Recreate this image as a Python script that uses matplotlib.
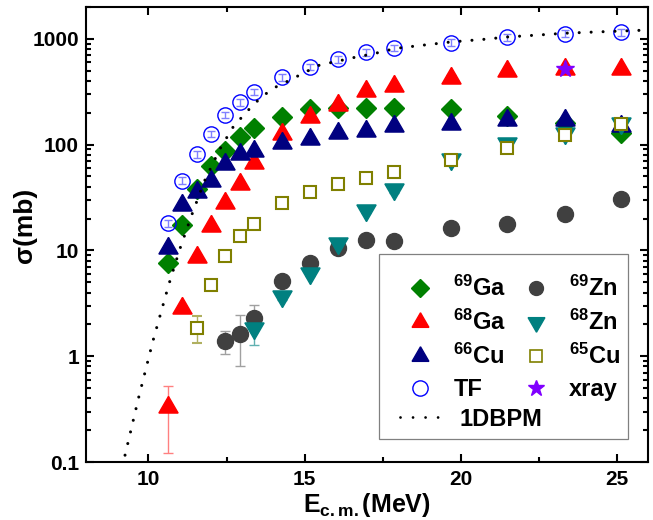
import matplotlib
matplotlib.use('Agg')
import matplotlib.pyplot as plt
from matplotlib.lines import Line2D
from matplotlib.patches import Rectangle
from matplotlib.ticker import MultipleLocator, NullFormatter, LogLocator

plt.rcParams['font.family'] = ['Liberation Sans', 'DejaVu Sans']
plt.rcParams['font.weight'] = 'bold'
plt.rcParams['mathtext.fontset'] = 'custom'
plt.rcParams['mathtext.rm'] = 'Liberation Sans:bold'
plt.rcParams['mathtext.bf'] = 'Liberation Sans:bold'
plt.rcParams['mathtext.it'] = 'Liberation Sans:bold'
plt.rcParams['axes.linewidth'] = 1.5

# ---------------- data ----------------
E = [10.63, 11.08, 11.54, 11.99, 12.44, 12.92, 13.37, 14.29, 15.16, 16.08,
     16.96, 17.88, 19.70, 21.50, 23.33, 25.15]

ga69 = [7.6, 17.5, 37.7, 62.6, 86.8, 119, 143, 181, 219, 224, 224, 224, 215, 186, 161, 130]
ga69_err = [0.4, 0.9, 1.9, 3.1, 4.3, 6, 7, 9, 11, 11, 11, 11, 11, 9, 8, 7]

ga68 = [0.334, 2.85, 8.68, 16.9, 28.2, 42, 67.4, 125, 184, 235, 321, 358, 430, 497, 515, 515]
ga68_lo = [0.213, 0.25, 0.7, 1.3, 2.2, 3.3, 5.3, 10, 15, 19, 25, 28, 34, 39, 40, 40]
ga68_hi = [0.194, 0.15, 0.4, 0.8, 1.4, 2.1, 3.4, 6, 9, 12, 16, 18, 21, 25, 26, 26]

cu66 = [10.6, 26.6, 35.5, 45, 64.9, 80.7, 86.8, 104, 112, 130, 136, 150, 155, 170, 170, 150]
cu66_err = [0.8, 2.0, 2.7, 3.4, 4.9, 6, 6.5, 8, 8.5, 10, 10, 11, 12, 13, 13, 11]

tf = [18, 45.8, 80.7, 126, 190, 251, 314, 433, 542, 641, 747, 820, 923, 1035, 1122, 1156]
tf_err = [1.3, 3.2, 5.6, 8.8, 13, 18, 22, 30, 38, 45, 52, 57, 65, 72, 79, 81]

E_cu65 = E[2:]
cu65 = [1.85, 4.74, 8.8, 13.8, 17.9, 28.2, 35.5, 42.9, 48.6, 55, 70.8, 93.5, 122, 155]
cu65_lo = [0.52, 0.4, 0.6, 0.9, 1.2, 1.9, 2.4, 2.9, 3.3, 3.7, 4.8, 6.3, 8.2, 10]
cu65_hi = [0.55, 0.4, 0.6, 0.9, 1.2, 1.9, 2.4, 2.9, 3.3, 3.7, 4.8, 6.3, 8.2, 10]

E_zn69 = E[4:]
zn69 = [1.4, 1.62, 2.3, 5.1, 7.6, 10.6, 12.5, 12.4, 16.3, 17.8, 22.2, 30.9]
zn69_lo = [0.35, 0.82, 0.5, 0.3, 0.4, 0.5, 0.6, 0.6, 0.7, 0.8, 1.0, 1.3]
zn69_hi = [0.35, 0.85, 0.77, 0.3, 0.4, 0.5, 0.6, 0.6, 0.7, 0.8, 1.0, 1.3]

E_zn68 = E[6:]
zn68 = [1.85, 3.67, 6.12, 11.8, 24.3, 37.7, 72.4, 104, 130, 161]
zn68_lo = [0.57, 0.25, 0.4, 0.8, 1.6, 2.5, 4.8, 7, 9, 11]
zn68_hi = [0.5, 0.25, 0.4, 0.8, 1.6, 2.5, 4.8, 7, 9, 11]

E_xray = [23.33]
xray = [523]

bpm_E = [9.25, 9.68, 10.14, 10.65, 11.0, 11.37, 11.79, 12.28, 12.70, 13.02, 13.34,
         13.66, 14.04, 14.41, 14.75, 15.1, 15.48, 16.19, 16.57, 16.96, 17.46, 17.88,
         18.58, 19.7, 20.77, 21.5, 22.53, 23.33, 24.35, 25.84]
bpm = [0.116, 0.40, 1.38, 4.74, 10.2, 21, 45, 90, 145, 186, 235, 288, 346, 391, 440,
       497, 565, 627, 665, 700, 751, 809, 857, 935, 991, 1042, 1089, 1130, 1162, 1206]

yticks = [0.1, 1, 10, 100, 1000]
ytick_labels = ['0.1', '1', '10', '100', '1000']
xticks = [10, 15, 20, 25]
xtick_labels = ['10', '15', '20', '25']

# ---------------- figure ----------------
fig = plt.figure(figsize=(6.53, 5.2), dpi=100)
ax = fig.add_axes([86 / 653, 1 - 462 / 520, 562 / 653, 455 / 520])

tri_up = (3, 0, 0)
tri_dn = (3, 0, 180)

ax.errorbar(E, ga69, yerr=ga69_err, fmt='D', color='#008000', ms=10, mec='#008000',
            ecolor='#80c080', elinewidth=1, capsize=3, zorder=2)
ax.errorbar(E, ga68, yerr=[ga68_lo, ga68_hi], fmt='none', ecolor='#ff8080',
            elinewidth=1, capsize=3.5, zorder=2.05)
ax.plot(E, ga68, ls='none', marker=tri_up, color='#ff0000', ms=16, zorder=2.1)
ax.errorbar(E, cu66, yerr=cu66_err, fmt='none', ecolor='#6060b0',
            elinewidth=1, capsize=3, zorder=2.15)
ax.plot(E, cu66, ls='none', marker=tri_up, color='#000080', ms=16, zorder=2.2)
ax.errorbar(E_zn69, zn69, yerr=[zn69_lo, zn69_hi], fmt='o', color='#404040', ms=11.5,
            ecolor='#a0a0a0', elinewidth=1, capsize=3.5, zorder=2.3)
ax.errorbar(E_zn68, zn68, yerr=[zn68_lo, zn68_hi], fmt='none', ecolor='#60b0b0',
            elinewidth=1, capsize=3.5, zorder=2.35)
ax.plot(E_zn68, zn68, ls='none', marker=tri_dn, color='#008080', ms=16, zorder=2.4)
ax.errorbar(E_cu65, cu65, yerr=[cu65_lo, cu65_hi], fmt='s', mfc='white', mec='#808000',
            mew=1.5, ms=8.8, ecolor='#b0b060', elinewidth=1, capsize=3.5, zorder=2.5)
ax.errorbar(E, tf, yerr=tf_err, fmt='o', mfc='none', mec='#0000ff', mew=1.0, ms=11,
            ecolor='#8080ff', elinewidth=1, capsize=3, zorder=2.6)
ax.plot(E_xray, xray, ls='none', marker='*', color='#8000ff', ms=13, zorder=2.7)
ax.plot(bpm_E, bpm, color='black', lw=2.2, ls=(0, (0.01, 3.9)),
        dash_capstyle='round', zorder=2.8)

ax.set_yscale('log')
ax.set_xlim(8, 26)
ax.set_ylim(0.1, 2000)
ax.set_yticks(yticks, labels=ytick_labels)
ax.yaxis.set_minor_locator(LogLocator(base=10, subs=range(2, 10)))
ax.yaxis.set_minor_formatter(NullFormatter())
ax.set_xticks(xticks, labels=xtick_labels)
ax.xaxis.set_minor_locator(MultipleLocator(2.5))
ax.tick_params(which='both', direction='in', top=True, right=True, width=1.5,
               labelsize=15)
ax.tick_params(which='major', length=6)
ax.tick_params(which='minor', length=3.5)
ax.tick_params(axis='y', pad=5)
ax.tick_params(axis='x', pad=6)
for lab in ax.get_xticklabels() + ax.get_yticklabels():
    lab.set_fontweight('bold')

ax.set_xlabel(r'$\mathrm{E_{c.m.}}$(MeV)', fontsize=18, fontweight='bold', labelpad=1)
ax.set_ylabel('σ(mb)', fontsize=19, fontweight='bold')
ax.yaxis.set_label_coords(-0.088, 0.52)

# ---------------- legend ----------------
h_ga69 = Line2D([], [], ls='none', marker='D', color='#008000', ms=9)
h_ga68 = Line2D([], [], ls='none', marker=tri_up, color='#ff0000', ms=14)
h_cu66 = Line2D([], [], ls='none', marker=tri_up, color='#000080', ms=14)
h_tf = Line2D([], [], ls='none', marker='o', mfc='none', mec='#0000ff', mew=1.0, ms=11)
h_zn69 = Line2D([], [], ls='none', marker='o', color='#404040', ms=10)
h_zn68 = Line2D([], [], ls='none', marker=tri_dn, color='#008080', ms=14)
h_cu65 = Line2D([], [], ls='none', marker='s', mfc='white', mec='#808000', mew=1.2, ms=8)
h_xray = Line2D([], [], ls='none', marker='*', color='#8000ff', ms=12)
h_bpm = Line2D([], [], color='black', lw=2.0, ls=(0, (0.01, 4.5)), dash_capstyle='round')

labels1 = [r'$^{69}$Ga', r'$^{68}$Ga', r'$^{66}$Cu', 'TF',
           r'$^{69}$Zn', r'$^{68}$Zn', r'$^{65}$Cu', 'xray']
leg1 = ax.legend([h_ga69, h_ga68, h_cu66, h_tf, h_zn69, h_zn68, h_cu65, h_xray], labels1,
                 ncol=2, loc='upper left', bbox_to_anchor=((398 - 86) / 562, (462 - 276) / 455),
                 frameon=False, borderpad=0, borderaxespad=0, handlelength=1.9,
                 handletextpad=0.45, columnspacing=0.3, labelspacing=0.37,
                 prop={'size': 17, 'weight': 'bold'})
ax.add_artist(leg1)
leg2 = ax.legend([h_bpm], ['1DBPM'], loc='center left',
                 bbox_to_anchor=((400 - 86) / 562, (462 - 419) / 455),
                 frameon=False, borderpad=0, borderaxespad=0, handlelength=2.0,
                 handletextpad=0.5, prop={'size': 17, 'weight': 'bold'})
ax.add_patch(Rectangle(((379 - 86) / 562, (462 - 439) / 455), 249 / 562, 185 / 455,
                       transform=ax.transAxes, facecolor='white', edgecolor='#808080',
                       lw=0.9, zorder=4))

fig.savefig('out.png', dpi=100)
